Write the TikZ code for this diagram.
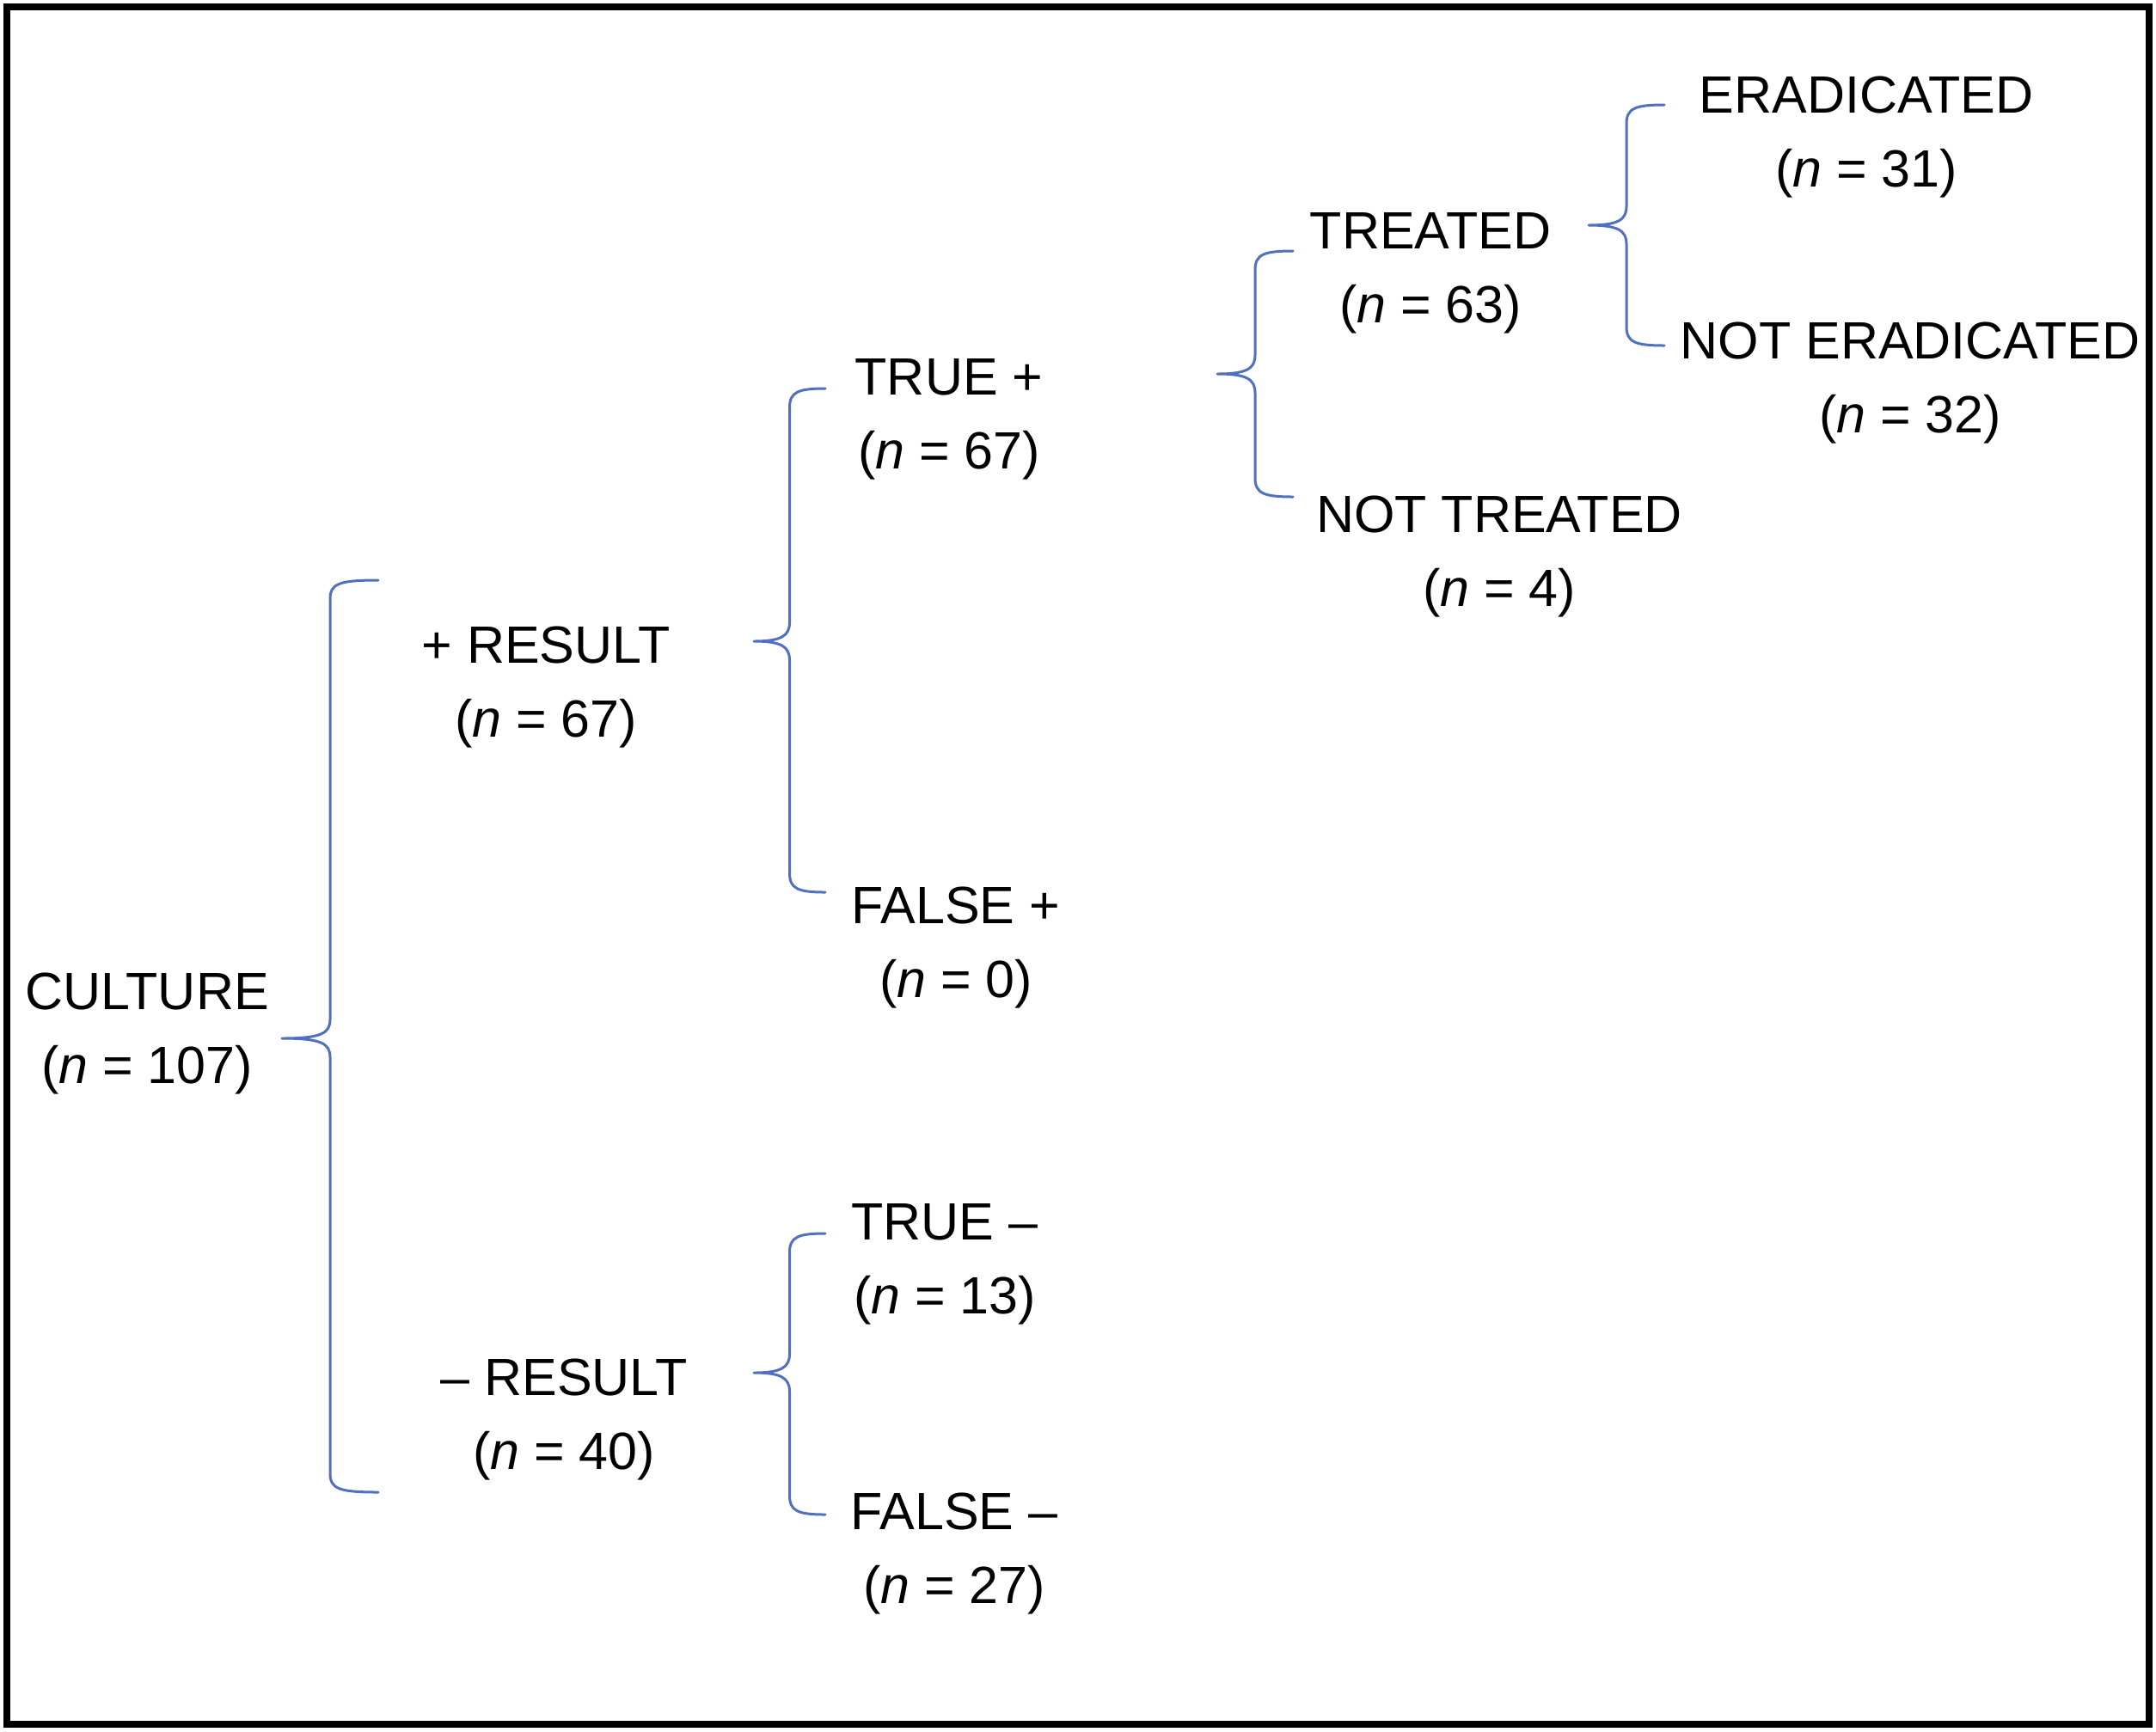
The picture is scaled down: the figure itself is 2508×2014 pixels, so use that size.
\documentclass[tikz,border=0pt]{standalone}
\usepackage{fontspec}
\setmainfont{Liberation Sans}
\usetikzlibrary{calc}
\definecolor{bracecol}{RGB}{82,112,192}
\tikzset{
  lbl/.style={inner sep=0pt, align=center, font=\fontsize{61}{86}\selectfont},
  brc/.style={draw=bracecol, line width=3pt, line cap=round, line join=round},
  frame/.style={draw=black, line width=8pt}
}
\newcommand\drawbrace[3]{%
  \path[brc] let \p1=(#1), \p2=(#2), \p3=(#3), \n1={(\x1+\x2)/2} in
    (\p2) .. controls ({\n1*1pt+10pt},\y2) and ({\n1*1pt},\y2-4pt) .. ({\n1*1pt},\y2-22pt)
    -- ({\n1*1pt},\y1+22pt) .. controls ({\n1*1pt},\y1+6pt) and ({\n1*1pt-10pt},\y1) .. (\p1)
    .. controls ({\n1*1pt-10pt},\y1) and ({\n1*1pt},\y1-6pt) .. ({\n1*1pt},\y1-22pt)
    -- ({\n1*1pt},\y3+22pt) .. controls ({\n1*1pt},\y3+4pt) and ({\n1*1pt+10pt},\y3) .. (\p3);%
}
\begin{document}
\begin{tikzpicture}[x=1pt,y=-1pt]
\useasboundingbox (0,0) rectangle (2508,2014);
\draw[frame] (8,8) rectangle (2500,2006);

% labels
\node[lbl] (culture) at (171,1202) {CULTURE\\(\textit{n} = 107)};
\node[lbl] (posres)  at (635,800)  {+ RESULT\\(\textit{n} = 67)};
\node[lbl] (negres)  at (656,1651) {– RESULT\\(\textit{n} = 40)};
\node[lbl] (truepos) at (1104,488) {TRUE +\\(\textit{n} = 67)};
\node[lbl] (falsepos) at (1112,1102) {FALSE +\\(\textit{n} = 0)};
\node[lbl] (trueneg) at (1099,1471) {TRUE –\\(\textit{n} = 13)};
\node[lbl] (falseneg) at (1110,1807) {FALSE –\\(\textit{n} = 27)};
\node[lbl] (treated) at (1664,318) {TREATED\\(\textit{n} = 63)};
\node[lbl] (nottreated) at (1744,648) {NOT TREATED\\(\textit{n} = 4)};
\node[lbl] (erad) at (2171,160) {ERADICATED\\(\textit{n} = 31)};
\node[lbl] (noterad) at (2222,446) {NOT ERADICATED\\(\textit{n} = 32)};

% brace end points
\coordinate (culture-tip) at (328,1208);
\coordinate (posres-in)   at (440,675);
\coordinate (negres-in)   at (440,1736);
\coordinate (posres-tip)  at (877,746);
\coordinate (truepos-in)  at (960,452);
\coordinate (falsepos-in) at (960,1038);
\coordinate (negres-tip)  at (877,1597);
\coordinate (trueneg-in)  at (960,1435);
\coordinate (falseneg-in) at (960,1762);
\coordinate (truepos-tip) at (1416,435);
\coordinate (treated-in)  at (1504,292);
\coordinate (nottreated-in) at (1504,578);
\coordinate (treated-tip) at (1848,262);
\coordinate (erad-in)     at (1936,122);
\coordinate (noterad-in)  at (1936,402);

\drawbrace{culture-tip}{posres-in}{negres-in}
\drawbrace{posres-tip}{truepos-in}{falsepos-in}
\drawbrace{negres-tip}{trueneg-in}{falseneg-in}
\drawbrace{truepos-tip}{treated-in}{nottreated-in}
\drawbrace{treated-tip}{erad-in}{noterad-in}
\end{tikzpicture}
\end{document}
